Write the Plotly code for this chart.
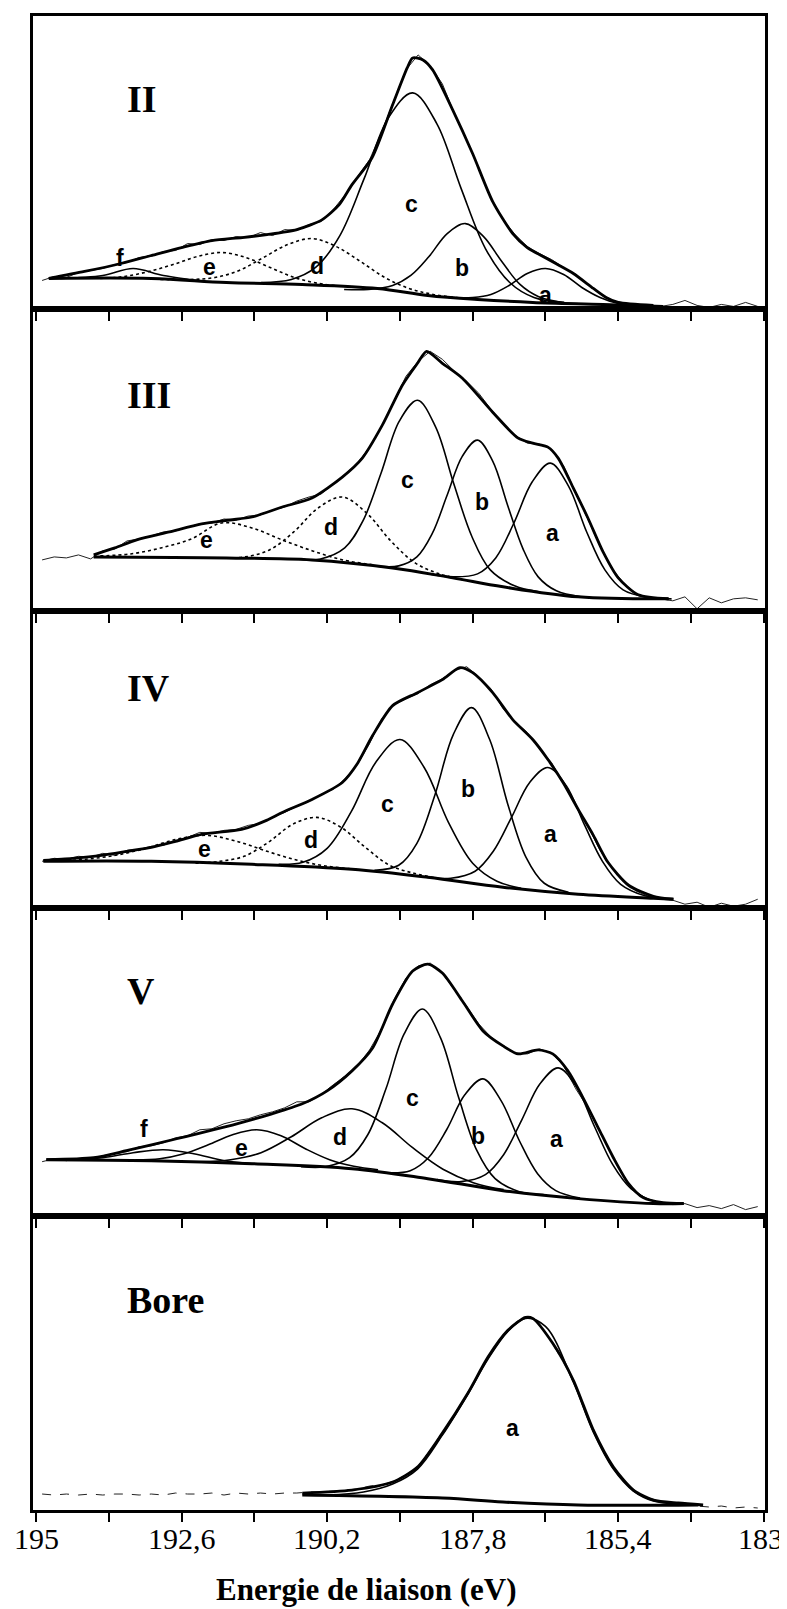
"""
B 1s XPS spectra (II, III, IV, V and boron reference) with peak decomposition.
"""

import plotly.graph_objects as go
from plotly.subplots import make_subplots

# binding energy axis (eV), runs from 195 down to 183
tick_vals = [195, 193.8, 192.6, 191.4, 190.2, 189.0, 187.8, 186.6, 185.4, 184.2, 183]
tick_text = ['195', '', '192,6', '', '190,2', '', '187,8', '', '185,4', '', '183']

panel_names = ['II', 'III', 'IV', 'V', 'Bore']
panel_heights = [294, 302, 298, 308, 295]

# measured points (shared energy grid)
raw_energy = [194.9, 194.7, 194.5, 194.3, 194.1, 193.9, 193.7, 193.5, 193.3, 193.1,
              192.9, 192.7, 192.5, 192.3, 192.1, 191.9, 191.7, 191.5, 191.3, 191.1,
              190.9, 190.7, 190.5, 190.3, 190.1, 189.9, 189.7, 189.5, 189.3, 189.1,
              188.9, 188.7, 188.5, 188.3, 188.1, 187.9, 187.7, 187.5, 187.3, 187.1,
              186.9, 186.7, 186.5, 186.3, 186.1, 185.9, 185.7, 185.5, 185.3, 185.1,
              184.9, 184.7, 184.5, 184.3, 184.1, 183.9, 183.7, 183.5, 183.3, 183.1]

# ---------------- II ----------------
ii_raw = [29, 33, 32, 37, 39, 41, 45, 47, 52, 53,
          58, 59, 66, 65, 70, 69, 73, 72, 77, 74,
          80, 79, 85, 88, 100, 115, 133, 150, 178, 209,
          240, 255, 244, 226, 196, 170, 140, 112, 90, 75,
          63, 56, 50, 42, 35, 25, 16, 9, 6, 5,
          4, 3, 5, 9, 4, 2, 5, 3, 7, 3]
ii_fit_e = [194.79, 194.2, 193.6, 193.1, 192.6, 192.1, 191.6, 191.19, 190.7, 190.28,
            190.0, 189.79, 189.46, 189.12, 188.88, 188.79, 188.62, 188.46, 188.13, 187.8,
            187.47, 187.14, 186.9, 186.64, 186.4, 186.14, 185.81, 185.6, 185.4, 184.82]
ii_fit = [31, 38, 46, 54, 62, 69, 72, 75, 80, 90,
          105, 125, 152, 205, 242, 252, 250, 240, 200, 156,
          108, 76, 62, 53, 45, 36, 21, 12, 7, 4]
ii_bg_e = [194.79, 193.1, 191.86, 190.61, 189.37, 188.54, 187.72, 186.81, 185.65, 184.66]
ii_bg = [31, 31, 27, 25, 21, 14, 10, 7, 5, 3]
ii_a_e = [188.2, 187.8, 187.5, 187.2, 186.9, 186.6, 186.3, 186.0, 185.7, 185.4, 185.0]
ii_a = [12, 12, 15, 24, 36, 41, 35, 22, 12, 6, 4]
ii_b_e = [189.92, 189.52, 189.12, 188.82, 188.52, 188.22, 187.92, 187.62, 187.32, 187.02,
          186.72, 186.32, 185.92]
ii_b = [20, 20, 24, 34, 53, 76, 86, 73, 48, 25, 13, 7, 5.5]
ii_c_e = [191.29, 190.79, 190.39, 189.99, 189.59, 189.19, 188.79, 188.39, 187.99, 187.59,
          187.19, 186.79, 186.29]
ii_c = [27, 30, 42, 74, 131, 192, 217, 186, 121, 61, 27, 12, 7]
ii_d_e = [192.95, 192.45, 192.05, 191.65, 191.25, 190.85, 190.45, 190.05, 189.65, 189.25,
          188.85, 188.45, 187.95]
ii_d = [30, 30, 32, 39, 52, 65, 71, 63, 48, 32, 21, 15, 11]
ii_e_e = [193.94, 193.54, 193.14, 192.74, 192.34, 191.94, 191.54, 191.14, 190.74, 190.34, 189.94]
ii_e = [31, 33, 38, 45, 53, 57, 52, 42, 32, 26, 23]
ii_f_e = [194.6, 193.9, 193.4, 192.9, 192.2]
ii_f = [31, 34, 41, 34, 28]

# ---------------- III ----------------
iii_raw = [51, 54, 53, 56, 52, 60, 62, 70, 72, 75,
           79, 80, 84, 87, 88, 92, 91, 95, 96, 101,
           104, 110, 114, 117, 127, 137, 148, 164, 185, 210,
           235, 250, 260, 252, 240, 230, 218, 202, 188, 176,
           168, 167, 162, 145, 118, 92, 65, 42, 27, 17,
           13, 12, 10, 14, 2, 13, 8, 12, 13, 11]
iii_fit_e = [194.05, 193.7, 193.34, 192.8, 192.27, 191.8, 191.44, 190.94, 190.45, 189.95,
             189.62, 189.29, 188.96, 188.71, 188.56, 188.3, 187.97, 187.47, 187.05, 186.81,
             186.56, 186.39, 186.14, 185.9, 185.65, 185.4, 185.07, 184.57]
iii_fit = [56, 63, 71, 79, 87, 91, 94, 104, 113, 134,
           153, 186, 226, 248, 260, 248, 233, 199, 173, 168,
           164, 153, 123, 93, 59, 33, 16, 12]
iii_bg_e = [194.05, 191.86, 190.45, 189.12, 188.13, 187.30, 186.06, 184.57]
iii_bg = [54, 53, 51, 43, 33, 24, 14, 12]
iii_a_e = [188.52, 188.12, 187.72, 187.42, 187.12, 186.82, 186.52, 186.22, 185.92, 185.62,
           185.32, 184.92, 184.52]
iii_a = [37, 34, 37, 53, 88, 129, 148, 125, 79, 41, 21, 13.5, 12]
iii_b_e = [189.42, 189.02, 188.72, 188.47, 188.22, 187.97, 187.72, 187.47, 187.22, 186.97,
           186.72, 186.42, 186.02]
iii_b = [45, 45, 54, 77, 116, 155, 171, 150, 105, 62, 34, 20, 14]
iii_c_e = [190.71, 190.31, 189.91, 189.61, 189.31, 189.01, 188.71, 188.41, 188.11, 187.81,
           187.51, 187.11, 186.71]
iii_c = [52, 52, 63, 90, 138, 190, 211, 184, 127, 74, 41, 25, 19]
iii_d_e = [191.95, 191.55, 191.15, 190.75, 190.35, 189.95, 189.55, 189.15, 188.75, 188.35, 187.95]
iii_d = [53, 54, 61, 79, 103, 114, 98, 70, 48, 37, 31]
iii_e_e = [193.94, 193.44, 192.94, 192.44, 191.94, 191.44, 190.94, 190.44, 189.94, 189.44]
iii_e = [55, 57, 63, 72, 88, 83, 71, 60, 51, 46]

# ---------------- IV ----------------
iv_raw = [47, 50, 49, 52, 51, 55, 53, 58, 59, 62,
          63, 68, 71, 76, 75, 78, 79, 83, 85, 91,
          96, 102, 107, 114, 119, 130, 144, 165, 190, 204,
          210, 215, 224, 230, 238, 242, 232, 220, 200, 187,
          176, 160, 146, 125, 103, 82, 58, 40, 27, 17,
          12, 9, 8, 4, 6, 1, 5, 2, 4, 9]
iv_fit_e = [194.88, 194.4, 193.92, 193.5, 193.10, 192.7, 192.27, 191.61, 191.2, 190.94,
            190.45, 189.95, 189.7, 189.45, 189.12, 188.71, 188.30, 188.01, 187.80, 187.47,
            187.14, 186.81, 186.56, 186.31, 186.06, 185.81, 185.57, 185.23, 184.82, 184.49]
iv_fit = [48, 50, 53, 57, 61, 67, 74, 79, 88, 96,
          109, 126, 145, 173, 203, 216, 229, 241, 236, 216,
          189, 169, 149, 126, 99, 73, 46, 23, 12, 9]
iv_bg_e = [194.88, 193.10, 191.44, 189.79, 188.54, 187.30, 186.06, 184.82, 184.49]
iv_bg = [47, 47, 44, 39, 31, 21, 14, 10, 9]
iv_a_e = [188.56, 188.16, 187.76, 187.46, 187.16, 186.86, 186.56, 186.26, 185.96, 185.66,
          185.36, 184.96, 184.56]
iv_a = [31, 30, 37, 57, 91, 126, 141, 123, 84, 47, 24, 12.5, 9]
iv_b_e = [189.42, 189.02, 188.72, 188.42, 188.12, 187.82, 187.52, 187.22, 186.92, 186.62, 186.22]
iv_b = [38, 43, 65, 114, 174, 201, 169, 104, 51, 25, 16]
iv_c_e = [191.0, 190.6, 190.2, 189.8, 189.4, 189.0, 188.6, 188.2, 187.8, 187.4, 187.0]
iv_c = [44, 46, 60, 97, 146, 169, 141, 86, 45, 27, 20]
iv_d_e = [192.37, 191.97, 191.57, 191.17, 190.77, 190.37, 189.97, 189.57, 189.17, 188.77, 188.37]
iv_d = [45, 47, 52, 66, 84, 91, 81, 61, 43, 35, 30]
iv_e_e = [194.69, 194.19, 193.69, 193.19, 192.69, 192.19, 191.69, 191.19, 190.69, 190.19, 189.69]
iv_e = [47, 49, 53, 60, 69, 73, 67, 57, 48, 42, 39]

# ---------------- V ----------------
v_raw = [54, 57, 55, 57, 56, 60, 62, 64, 69, 70,
         73, 78, 80, 86, 87, 92, 95, 97, 101, 104,
         108, 114, 114, 121, 131, 140, 150, 166, 187, 216,
         238, 250, 253, 243, 226, 210, 192, 179, 170, 163,
         162, 167, 163, 150, 127, 108, 85, 60, 38, 23,
         16, 13, 11, 12, 8, 10, 7, 11, 6, 9]
v_fit_e = [194.83, 194.05, 193.51, 192.68, 191.69, 191.11, 190.61, 190.20, 189.79, 189.45,
           189.12, 188.79, 188.54, 188.30, 187.97, 187.63, 187.30, 187.05, 186.72, 186.48,
           186.23, 185.98, 185.73, 185.48, 185.23, 184.99, 184.66, 184.32]
v_fit = [56, 58, 65, 77, 92, 102, 112, 125, 145, 168,
         212, 245, 252, 243, 215, 185, 170, 162, 166, 162,
         145, 118, 88, 58, 32, 18, 13, 12]
v_bg_e = [194.83, 193.10, 191.44, 189.79, 188.54, 187.30, 186.06, 184.82, 184.32]
v_bg = [56, 55, 52, 47, 37, 25, 17, 12, 12]
v_a_e = [188.39, 187.99, 187.59, 187.29, 186.99, 186.69, 186.39, 186.09, 185.79, 185.49,
         185.19, 184.79, 184.39]
v_a = [36, 34, 41, 61, 96, 132, 148, 129, 89, 51, 27, 14, 12]
v_b_e = [189.23, 188.83, 188.53, 188.23, 187.93, 187.63, 187.33, 187.03, 186.73, 186.43, 186.03]
v_b = [43, 45, 58, 86, 121, 137, 115, 75, 42, 25, 17.5]
v_c_e = [190.63, 190.23, 189.83, 189.53, 189.23, 188.93, 188.63, 188.33, 188.03, 187.73,
         187.43, 187.03, 186.63]
v_c = [49, 49, 58, 81, 127, 182, 207, 178, 118, 65, 37, 24, 21]
v_d_e = [192.29, 191.79, 191.29, 190.79, 190.29, 189.79, 189.29, 188.79, 188.29, 187.79, 187.29]
v_d = [54, 56, 63, 79, 98, 107, 93, 68, 46.5, 33, 26]
v_e_e = [193.36, 192.96, 192.56, 192.16, 191.76, 191.36, 190.96, 190.56, 190.16, 189.76, 189.36]
v_e = [56, 57, 62, 71, 81, 86, 80, 67, 56, 49.5, 46]
v_f_e = [194.4, 193.9, 193.4, 192.9, 192.4, 191.9, 191.4]
v_f = [56, 58, 63, 66, 62, 55, 52]

# ---------------- Bore ----------------
bore_raw = [16, 15, 16, 15, 16, 15, 16, 16, 15, 16,
            15, 17, 16, 16, 17, 15, 17, 16, 17, 16,
            17, 17, 18, 18, 19, 20, 21, 24, 25, 29,
            35, 44, 60, 78, 96, 116, 137, 158, 174, 188,
            194, 188, 168, 148, 124, 94, 66, 45, 29, 18,
            12, 9, 7, 6, 4, 3, 4, 2, 3, 2]
bore_fit_e = [190.61, 189.79, 189.12, 188.71, 188.30, 187.88, 187.55, 187.22, 186.93, 186.81,
              186.48, 186.14, 185.81, 185.48, 185.15, 184.82, 184.41, 184.0]
bore_fit = [17, 20, 28, 43, 77, 117, 153, 180, 193, 192,
            167, 130, 80, 43, 20, 10, 7, 5]
bore_bg_e = [190.61, 188.30, 187.30, 186.06, 184.08]
bore_bg = [15, 12, 8, 5, 5]
bore_a_e = [190.2, 189.6, 189.12, 188.71, 188.30, 187.88, 187.55, 187.22, 186.93, 186.6,
            186.14, 185.81, 185.48, 185.15, 184.82, 184.41]
bore_a = [15, 18, 26, 41, 75, 116, 151, 179, 192, 184, 128, 78, 41, 19, 9, 6]


panels = [
    dict(raw=ii_raw, fit=(ii_fit_e, ii_fit), bg=(ii_bg_e, ii_bg), raw_dash='solid',
         peaks=[(ii_a_e, ii_a, 'solid'), (ii_b_e, ii_b, 'solid'), (ii_c_e, ii_c, 'solid'),
                (ii_d_e, ii_d, 'dot'), (ii_e_e, ii_e, 'dot'), (ii_f_e, ii_f, 'solid')],
         letters=[('a', 186.6, 14), ('b', 187.97, 41), ('c', 188.81, 106),
                  ('d', 190.37, 44), ('e', 192.14, 42), ('f', 193.61, 52)],
         label_y=211),
    dict(raw=iii_raw, fit=(iii_fit_e, iii_fit), bg=(iii_bg_e, iii_bg), raw_dash='solid',
         peaks=[(iii_a_e, iii_a, 'solid'), (iii_b_e, iii_b, 'solid'), (iii_c_e, iii_c, 'solid'),
                (iii_d_e, iii_d, 'dot'), (iii_e_e, iii_e, 'dot')],
         letters=[('a', 186.49, 78), ('b', 187.65, 109), ('c', 188.88, 131),
                  ('d', 190.13, 84), ('e', 192.19, 71)],
         label_y=216),
    dict(raw=iv_raw, fit=(iv_fit_e, iv_fit), bg=(iv_bg_e, iv_bg), raw_dash='solid',
         peaks=[(iv_a_e, iv_a, 'solid'), (iv_b_e, iv_b, 'solid'), (iv_c_e, iv_c, 'solid'),
                (iv_d_e, iv_d, 'dot'), (iv_e_e, iv_e, 'dot')],
         letters=[('a', 186.52, 74), ('b', 187.88, 119), ('c', 189.21, 104),
                  ('d', 190.47, 68), ('e', 192.23, 59)],
         label_y=221),
    dict(raw=v_raw, fit=(v_fit_e, v_fit), bg=(v_bg_e, v_bg), raw_dash='solid',
         peaks=[(v_a_e, v_a, 'solid'), (v_b_e, v_b, 'solid'), (v_c_e, v_c, 'solid'),
                (v_d_e, v_d, 'solid'), (v_e_e, v_e, 'solid'), (v_f_e, v_f, 'solid')],
         letters=[('a', 186.41, 77), ('b', 187.72, 80), ('c', 188.79, 118),
                  ('d', 189.99, 79), ('e', 191.62, 68), ('f', 193.22, 87)],
         label_y=225),
    dict(raw=bore_raw, fit=(bore_fit_e, bore_fit), bg=(bore_bg_e, bore_bg), raw_dash='dash',
         peaks=[(bore_a_e, bore_a, 'solid')],
         letters=[('a', 187.14, 82)],
         label_y=210),
]

fig = make_subplots(rows=5, cols=1, vertical_spacing=0, row_heights=panel_heights)

serif = 'Liberation Serif'
annotations = []

for i, p in enumerate(panels):
    row = i + 1
    # measured spectrum
    fig.add_trace(go.Scatter(
        x=raw_energy, y=p['raw'], mode='lines',
        line=dict(color='#222', width=1, dash=p['raw_dash']),
    ), row=row, col=1)
    # fitted components
    for e, y, dash in p['peaks']:
        fig.add_trace(go.Scatter(
            x=e, y=y, mode='lines', line_shape='spline',
            line=dict(color='black', width=1.6, dash=dash),
        ), row=row, col=1)
    # background
    fig.add_trace(go.Scatter(
        x=p['bg'][0], y=p['bg'][1], mode='lines', line_shape='spline',
        line=dict(color='black', width=3),
    ), row=row, col=1)
    # envelope
    fig.add_trace(go.Scatter(
        x=p['fit'][0], y=p['fit'][1], mode='lines', line_shape='spline',
        line=dict(color='black', width=2.8, smoothing=0.7),
    ), row=row, col=1)

    xref = 'x' if row == 1 else f'x{row}'
    yref = 'y' if row == 1 else f'y{row}'
    annotations.append(dict(
        x=193.53, y=p['label_y'], xref=xref, yref=yref, text=panel_names[i],
        xanchor='left', yanchor='middle', showarrow=False,
        font=dict(family=serif, size=38, color='black', weight='bold'),
    ))
    for txt, ex, ey in p['letters']:
        annotations.append(dict(
            x=ex, y=ey, xref=xref, yref=yref, text=txt, showarrow=False,
            xanchor='center', yanchor='middle',
            font=dict(family='Liberation Sans', size=23, color='black', weight='bold'),
        ))

    fig.update_yaxes(
        range=[0, panel_heights[i]], showline=True, mirror=True, linecolor='black',
        linewidth=3, showticklabels=False, ticks='', showgrid=False, zeroline=False,
        row=row, col=1,
    )
    fig.update_xaxes(
        range=[195.05, 182.98], showline=True, mirror=True, linecolor='black',
        linewidth=3, ticks='outside', ticklen=9, tickwidth=2, tickcolor='black',
        tickvals=tick_vals, showticklabels=False,
        showgrid=False, zeroline=False, row=row, col=1,
    )

# tick labels of the bottom energy axis
for val, txt in zip(tick_vals, tick_text):
    if txt:
        annotations.append(dict(
            x=val, y=-0.0194, xref='x5', yref='paper', text=txt, showarrow=False,
            xanchor='center', yanchor='middle', xshift=-3 if val == 183 else 0,
            font=dict(family=serif, size=30, color='black'),
        ))

annotations.append(dict(
    x=0.456, y=-0.0534, xref='paper', yref='paper', text='Energie de liaison (eV)',
    showarrow=False, xanchor='center', yanchor='middle',
    font=dict(family=serif, size=31, color='black', weight='bold'),
))

# page body adds an 8 px offset, so left/top margins are trimmed by that amount
fig.update_layout(
    width=787, height=1609, showlegend=False,
    margin=dict(l=25, r=30, t=5, b=107),
    paper_bgcolor='white', plot_bgcolor='white',
    annotations=annotations,
)

fig.write_html("out.html")
